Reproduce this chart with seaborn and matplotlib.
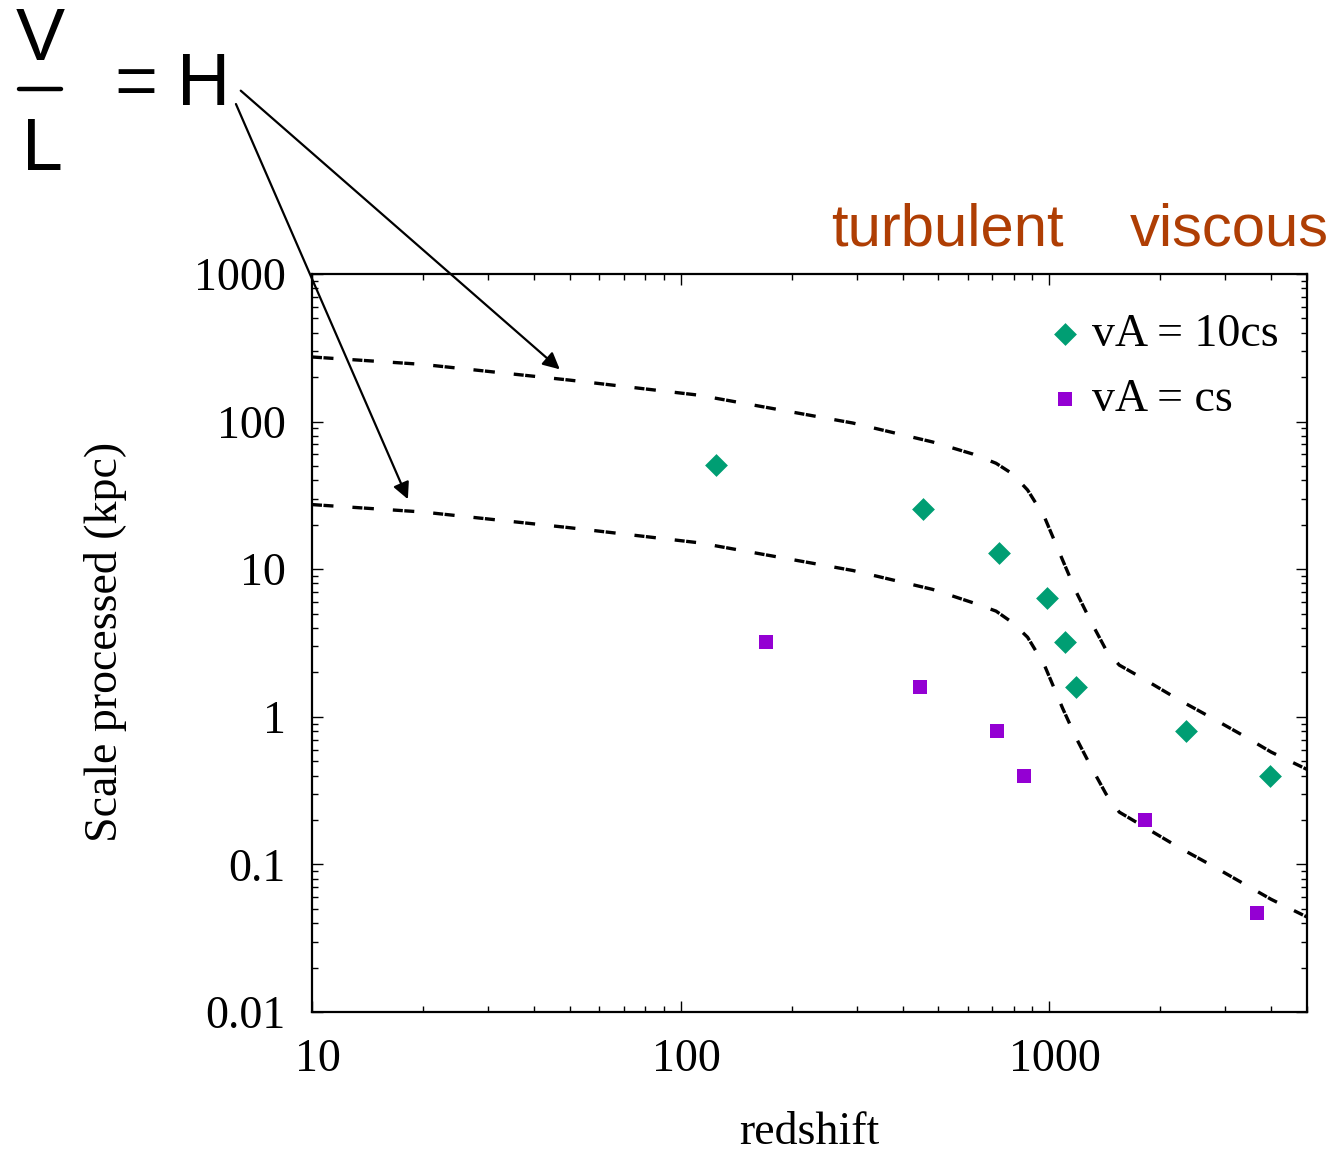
"""Scale processed vs redshift, with H = V/L annotation."""
import matplotlib
matplotlib.use("Agg")
import matplotlib.pyplot as plt
from matplotlib.lines import Line2D
from matplotlib.transforms import ScaledTranslation
from matplotlib.ticker import FixedLocator, FixedFormatter, LogLocator, NullFormatter
import seaborn as sns

# dashed curves (upper and one decade lower)
curve_z = [10, 20, 50, 112, 293, 482, 620, 717, 795, 873, 969, 1087, 1182, 1297, 1425, 1548, 1786, 2250, 2765, 3335, 3996, 5000]
curve_hi = [274, 244, 191, 151, 97.8, 72.8, 60.3, 52.2, 44.2, 34.4, 22.7, 11.5, 7.04, 4.41, 2.84, 2.24, 1.83, 1.30, 0.98, 0.753, 0.577, 0.44]
curve_lo = [27.4, 24.4, 19.1, 15.1, 9.8, 7.3, 5.93, 5.2, 4.34, 3.46, 2.25, 1.14, 0.72, 0.46, 0.30, 0.226, 0.183, 0.13, 0.098, 0.075, 0.058, 0.044]

# points
z_10cs = [125, 453, 732, 988, 1104, 1183, 2350, 3970]
L_10cs = [51.2, 25.6, 12.8, 6.4, 3.2, 1.6, 0.8, 0.4]
z_cs = [170, 445, 723, 855, 1820, 3660]
L_cs = [3.2, 1.6, 0.8, 0.4, 0.2, 0.047]

x_ticks = [10, 100, 1000]
x_labels = ["10", "100", "1000"]
y_ticks = [0.01, 0.1, 1, 10, 100, 1000]
y_labels = ["0.01", "0.1", "1", "10", "100", "1000"]

GREEN = "#009e73"
PURPLE = "#9400d3"
RUST = "#af3e04"
SERIF = ["Liberation Serif", "DejaVu Serif"]
SANS = ["Liberation Sans", "DejaVu Sans"]

sns.set_style("ticks")
plt.rcParams["font.family"] = SERIF
plt.rcParams.update({"text.color": "black", "axes.labelcolor": "black",
                     "xtick.color": "black", "ytick.color": "black"})

fig = plt.figure(figsize=(13.33, 11.52), dpi=100)
ax = fig.add_axes([0.23406, 0.12153, 0.74644, 0.64063])

dash = (0, (3.0, 0.45, 3.0, 5.7))
sns.lineplot(x=curve_z, y=curve_hi, ax=ax, color="black", lw=2.4, linestyle=dash, sort=False, estimator=None)
sns.lineplot(x=curve_z, y=curve_lo, ax=ax, color="black", lw=2.4, linestyle=dash, sort=False, estimator=None)

sns.scatterplot(x=z_10cs, y=L_10cs, ax=ax, marker="D", s=135, color=GREEN, linewidth=0, label="vA = 10cs", zorder=3)
sns.scatterplot(x=z_cs, y=L_cs, ax=ax, marker="s", s=95, color=PURPLE, linewidth=0, label="vA = cs", zorder=3)

ax.set_xscale("log")
ax.set_yscale("log")
ax.set_xlim(10, 5000)
ax.set_ylim(0.01, 1000)

ax.xaxis.set_major_locator(FixedLocator(x_ticks))
ax.xaxis.set_major_formatter(FixedFormatter(x_labels))
ax.yaxis.set_major_locator(FixedLocator(y_ticks))
ax.yaxis.set_major_formatter(FixedFormatter(y_labels))
ax.xaxis.set_minor_locator(LogLocator(base=10, subs=range(2, 10), numticks=20))
ax.yaxis.set_minor_locator(LogLocator(base=10, subs=range(2, 10), numticks=20))
ax.xaxis.set_minor_formatter(NullFormatter())
ax.yaxis.set_minor_formatter(NullFormatter())

ax.tick_params(which="both", direction="in", top=True, right=True, colors="black", width=1)
ax.tick_params(which="major", length=8, labelsize=33, pad=19)
ax.tick_params(which="minor", length=4)
for sp in ax.spines.values():
    sp.set_visible(True)
    sp.set_linewidth(1.6)
    sp.set_color("black")

# gnuplot puts the x tick labels a touch right of the ticks
shift = ScaledTranslation(6 / 100, 0, fig.dpi_scale_trans)
for lab in ax.get_xticklabels():
    lab.set_transform(lab.get_transform() + shift)

ax.set_xlabel("redshift", fontsize=33)
ax.set_ylabel("Scale processed (kpc)", fontsize=33)
ax.xaxis.set_label_coords(0.5, -0.1355)
ax.yaxis.set_label_coords(-0.186, 0.502)

ax.legend(loc="upper left", bbox_to_anchor=(0.7337, 0.9458), bbox_transform=ax.transAxes,
          frameon=False, fontsize=33, handlelength=1.0, handletextpad=0.1,
          labelspacing=0.47, borderpad=0, borderaxespad=0)

# regime labels
fig.text(0.6234, 0.7873, "turbulent", fontsize=43, family=SANS, color=RUST, ha="left", va="baseline")
fig.text(0.8477, 0.7873, "viscous", fontsize=43, family=SANS, color=RUST, ha="left", va="baseline")

# H = V / L
fig.text(0.030, 0.9479, "V", fontsize=53, family=SANS, ha="center", va="baseline")
fig.text(0.0315, 0.8524, "L", fontsize=53, family=SANS, ha="center", va="baseline")
fig.add_artist(Line2D([19 / 1333, 61 / 1333], [1 - 88.5 / 1152] * 2, lw=3.2, color="black", transform=fig.transFigure))
fig.text(0.1017, 0.9089, "=", fontsize=53, family=SANS, ha="center", va="baseline")
fig.text(0.153, 0.9089, "H", fontsize=53, family=SANS, ha="center", va="baseline")

arrow = dict(arrowstyle="-|>", color="black", lw=1.6, mutation_scale=25, shrinkA=0, shrinkB=0)
ax.annotate("", xy=(47, 226), xycoords="data", xytext=(0.1806, 0.9213), textcoords="figure fraction",
            arrowprops=arrow, annotation_clip=False)
ax.annotate("", xy=(18.2, 29.8), xycoords="data", xytext=(0.1770, 0.9097), textcoords="figure fraction",
            arrowprops=arrow, annotation_clip=False)

fig.savefig("out.png", dpi=100)
